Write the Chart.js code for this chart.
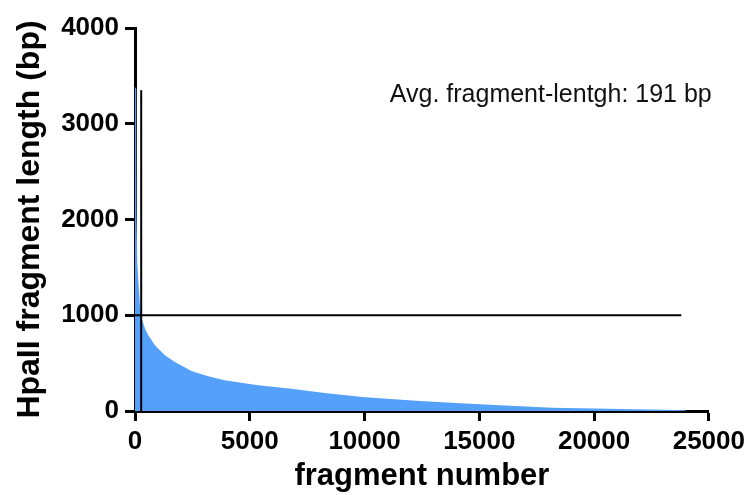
<!DOCTYPE html>
<html>
<head>
<meta charset="utf-8">
<script src="https://cdn.jsdelivr.net/npm/chart.js@4/dist/chart.umd.min.js"></script>
<style>
    html, body { margin: 0; padding: 0; background: #fff; }
    #wrap { width: 750px; height: 495px; }
</style>
</head>
<body>
<div id="wrap"><canvas id="fragments"></canvas></div>
<script>
// fragments sorted by length
const fragmentNumber = [0, 55, 65, 100, 160, 220, 275, 290, 435, 580, 870, 1300, 1740, 2460, 3190, 3910, 5360, 6810, 8260, 9910, 12390, 15000, 18170, 20000, 21800, 23000, 24000];
const fragmentLength = [3380, 3370, 2070, 1550, 1300, 1090, 1000, 965, 861, 791, 686, 582, 512, 418, 362, 321, 268, 233, 188, 146, 104, 70, 35, 25, 18, 12, 8];

// guide lines
const cutoffX = [270, 270];
const cutoffY = [0, 3350];
const thresholdX = [0, 23800];
const thresholdY = [1000, 1000];

const xTicks = [0, 5000, 10000, 15000, 20000, 25000];
const yTicks = [0, 1000, 2000, 3000, 4000];

const note = 'Avg. fragment-lentgh: 191 bp';
const notePos = [11100, 3300];

const fontFamily = '"Liberation Sans", Arial, sans-serif';

function toPoints(xs, ys)
{
    return xs.map((x, i) => ({ x: x, y: ys[i] }));
}

const notePlugin = {
    id: 'note',
    afterDatasetsDraw(chart) {
        const ctx = chart.ctx;
        const x = chart.scales.x.getPixelForValue(notePos[0]);
        const y = chart.scales.y.getPixelForValue(notePos[1]);
        ctx.save();
        ctx.font = '25px ' + fontFamily;
        ctx.fillStyle = '#111';
        ctx.textAlign = 'left';
        ctx.textBaseline = 'middle';
        ctx.fillText(note, x, y);
        ctx.restore();
    }
};

const canvas = document.getElementById('fragments');

new Chart(canvas, {
    type: 'line',
    data: {
        datasets: [
            {
                data: toPoints(cutoffX, cutoffY),
                borderColor: '#000',
                borderWidth: 2,
                pointRadius: 0,
                fill: false,
                order: 1,
            },
            {
                data: toPoints(thresholdX, thresholdY),
                borderColor: '#000',
                borderWidth: 2,
                pointRadius: 0,
                fill: false,
                order: 1,
            },
            {
                data: toPoints(fragmentNumber, fragmentLength),
                borderWidth: 0,
                borderColor: '#55a0fa',
                backgroundColor: '#55a0fa',
                pointRadius: 0,
                fill: 'origin',
                tension: 0,
                order: 2,
            },
        ],
    },
    options: {
        responsive: true,
        maintainAspectRatio: false,
        animation: false,
        layout: { padding: { top: 28, right: 40, bottom: 0, left: 0 } },
        plugins: {
            legend: { display: false },
            tooltip: { enabled: false },
        },
        scales: {
            x: {
                type: 'linear',
                min: 0,
                max: 25000,
                z: 1,
                afterFit: (scale) => { scale.height = 84; },
                afterBuildTicks: (scale) => { scale.ticks = xTicks.map((v) => ({ value: v })); },
                border: { display: true, color: '#000', width: 3 },
                grid: { drawOnChartArea: false, drawTicks: true, tickLength: 10, tickWidth: 3, tickColor: '#000' },
                ticks: {
                    color: '#000',
                    padding: 5,
                    maxRotation: 0,
                    callback: (value) => String(value),
                    font: { family: fontFamily, size: 26, weight: 'bold' },
                },
                title: {
                    display: true,
                    text: 'fragment number',
                    color: '#000',
                    padding: { top: 0, bottom: 0 },
                    font: { family: fontFamily, size: 31, weight: 'bold' },
                },
            },
            y: {
                min: 0,
                max: 4000,
                afterFit: (scale) => { scale.width = 135; },
                afterBuildTicks: (scale) => { scale.ticks = yTicks.map((v) => ({ value: v })); },
                border: { display: true, color: '#000', width: 3 },
                grid: { drawOnChartArea: false, drawTicks: true, tickLength: 10, tickWidth: 3, tickColor: '#000' },
                ticks: {
                    color: '#000',
                    padding: 6,
                    callback: (value) => String(value),
                    font: { family: fontFamily, size: 26, weight: 'bold' },
                },
                title: {
                    display: true,
                    text: 'HpaII fragment length (bp)',
                    color: '#000',
                    padding: { top: 11, bottom: 0 },
                    font: { family: fontFamily, size: 32, weight: 'bold' },
                },
            },
        },
    },
    plugins: [notePlugin],
});
</script>
</body>
</html>
